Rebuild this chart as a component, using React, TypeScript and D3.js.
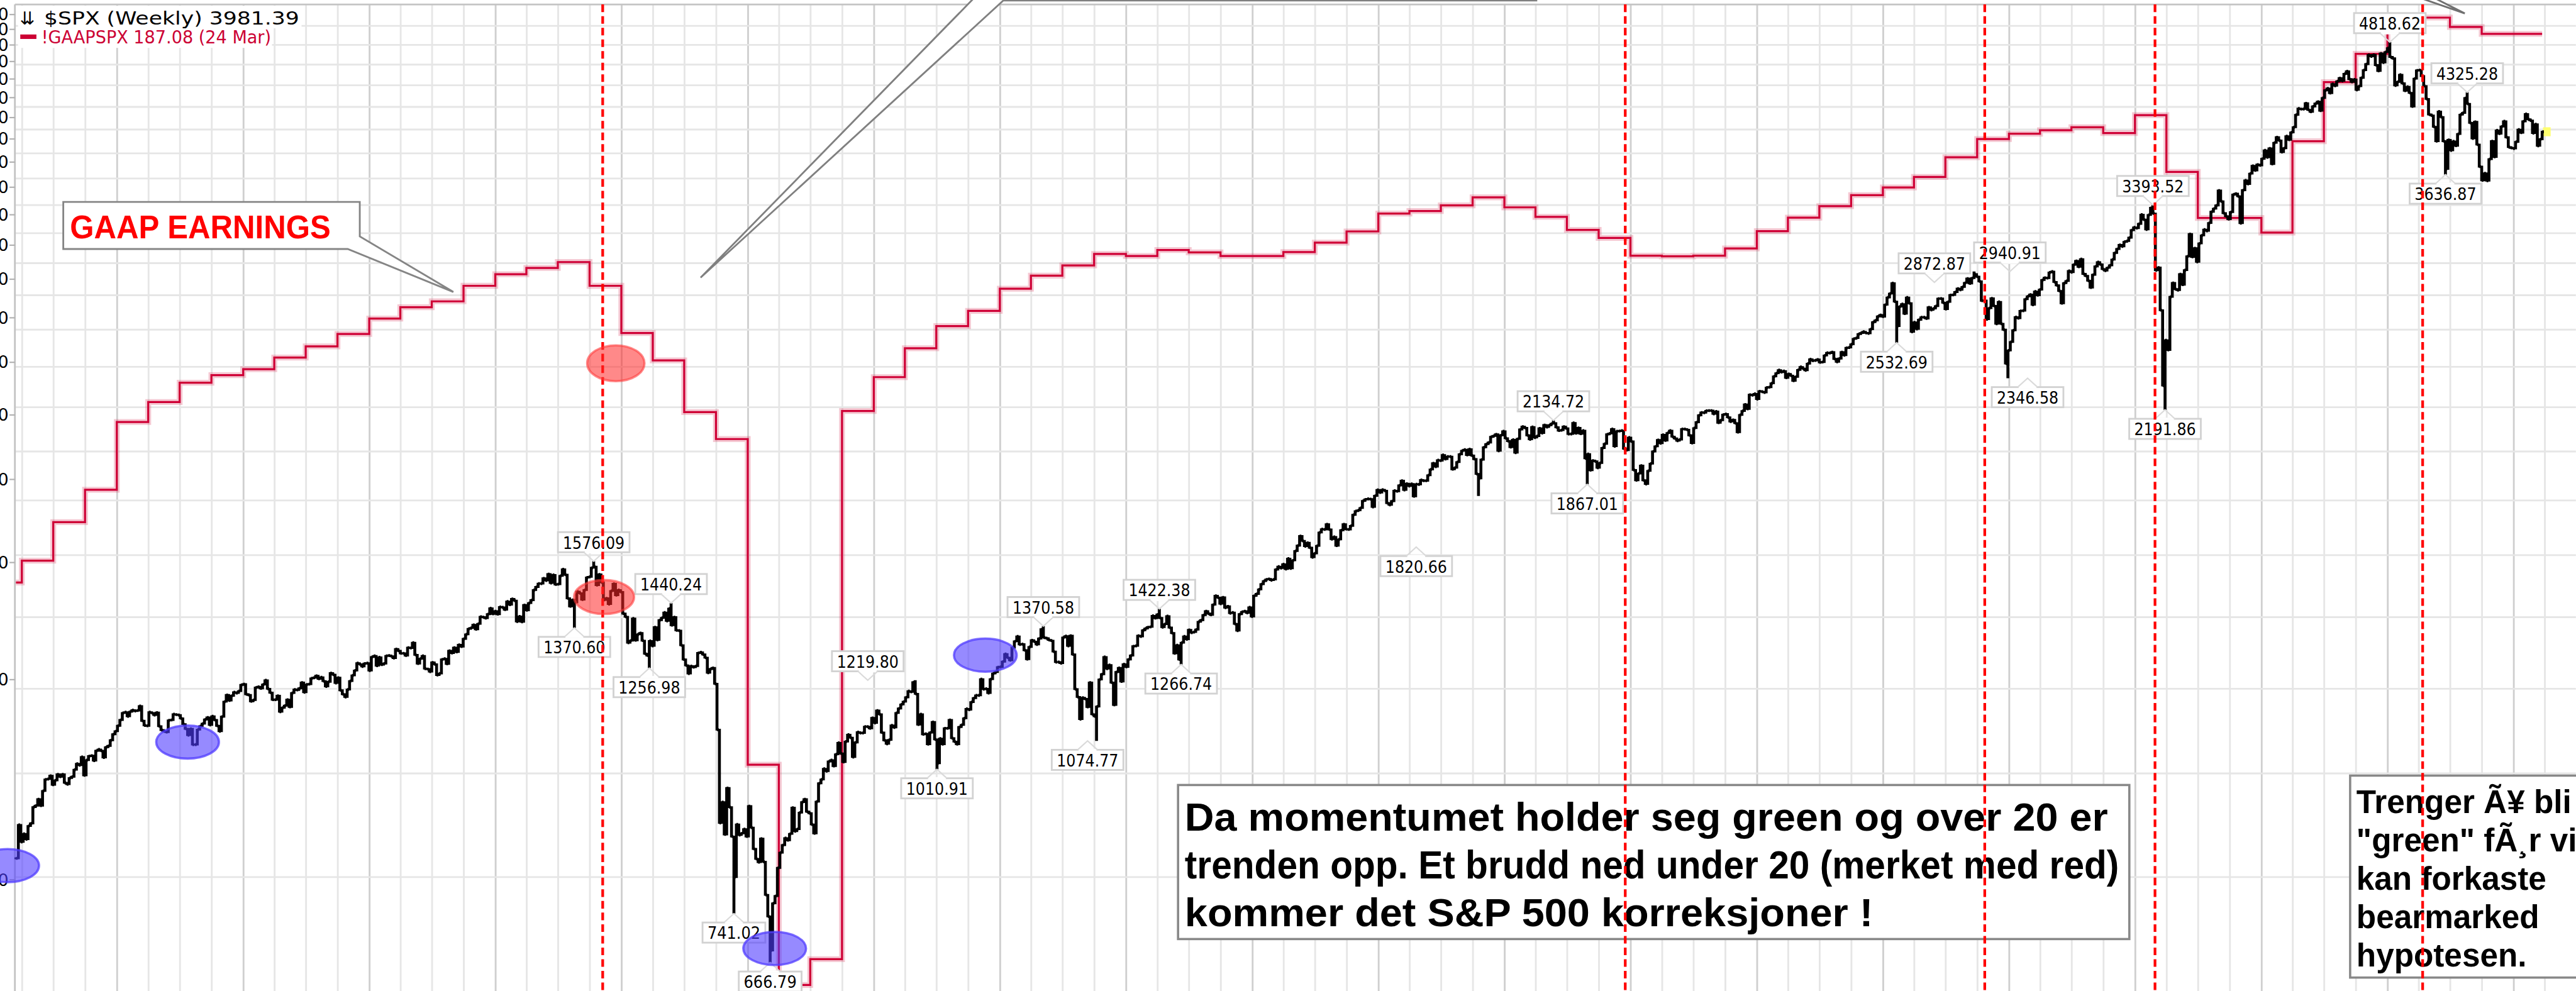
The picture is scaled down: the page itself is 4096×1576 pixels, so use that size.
import * as d3 from "d3";

// full-size reference coordinates, scaled down by the viewBox
const W = 5751;
const H = 2213;
const PLOT_LEFT = 33;
const PLOT_TOP = 10;

// $SPX weekly closes, one array per calendar year (first Friday given below)
const spx2003 = [833, 895, 863, 878, 868, 893, 898, 930, 933, 946, 933, 963, 987, 988, 995, 976, 985, 998, 993, 998, 980, 977, 990, 993, 1008, 1021, 1018, 1036, 996, 1029, 1038, 1039, 1028, 1050, 1053, 1050, 1035, 1058, 1061, 1074, 1088, 1095];
const spx2004 = [1108, 1122, 1139, 1141, 1131, 1142, 1146, 1144, 1145, 1156, 1120, 1109, 1108, 1141, 1139, 1134, 1140, 1107, 1098, 1095, 1093, 1121, 1122, 1136, 1135, 1134, 1126, 1112, 1101, 1086, 1101, 1064, 1064, 1099, 1107, 1113, 1123, 1128, 1110, 1131, 1122, 1108, 1095, 1130, 1167, 1184, 1170, 1182, 1191, 1189, 1194, 1210, 1212];
const spx2005 = [1186, 1184, 1168, 1171, 1203, 1205, 1201, 1211, 1222, 1200, 1190, 1172, 1172, 1182, 1142, 1152, 1157, 1172, 1154, 1189, 1198, 1197, 1201, 1216, 1191, 1211, 1212, 1227, 1229, 1234, 1226, 1230, 1220, 1206, 1218, 1241, 1237, 1215, 1229, 1196, 1186, 1179, 1198, 1220, 1235, 1248, 1268, 1265, 1259, 1267, 1268, 1248];
const spx2006 = [1285, 1288, 1261, 1284, 1264, 1267, 1288, 1289, 1287, 1282, 1307, 1302, 1295, 1295, 1289, 1311, 1310, 1325, 1291, 1267, 1280, 1288, 1253, 1252, 1245, 1270, 1265, 1236, 1240, 1278, 1280, 1266, 1302, 1296, 1311, 1299, 1319, 1314, 1336, 1349, 1365, 1368, 1377, 1364, 1380, 1401, 1400, 1397, 1409, 1427, 1410, 1418];
const spx2007 = [1409, 1431, 1430, 1423, 1448, 1438, 1456, 1451, 1387, 1402, 1386, 1437, 1421, 1443, 1452, 1484, 1494, 1505, 1505, 1522, 1515, 1536, 1507, 1533, 1502, 1503, 1530, 1552, 1534, 1458, 1433, 1453, 1445, 1479, 1474, 1454, 1484, 1525, 1527, 1557, 1561, 1500, 1535, 1509, 1453, 1458, 1440, 1481, 1504, 1468, 1484, 1478];
const spx2008 = [1411, 1401, 1325, 1331, 1396, 1332, 1349, 1353, 1331, 1294, 1289, 1330, 1316, 1370, 1333, 1391, 1398, 1414, 1389, 1426, 1376, 1400, 1361, 1360, 1318, 1278, 1262, 1240, 1260, 1257, 1260, 1296, 1298, 1292, 1283, 1242, 1252, 1255, 1213, 1099, 899, 940, 877, 969, 930, 873, 800, 896, 876, 879, 887, 873];
const spx2009 = [932, 890, 850, 832, 826, 869, 827, 770, 735, 683, 756, 768, 816, 843, 857, 870, 866, 878, 929, 883, 887, 919, 940, 946, 921, 918, 896, 879, 941, 979, 987, 1010, 1005, 1026, 1029, 1016, 1042, 1068, 1044, 1025, 1071, 1087, 1080, 1036, 1069, 1093, 1091, 1091, 1106, 1106, 1102, 1127, 1115];
const spx2010 = [1145, 1136, 1092, 1074, 1066, 1075, 1109, 1104, 1139, 1150, 1160, 1167, 1178, 1194, 1192, 1217, 1187, 1111, 1136, 1088, 1089, 1065, 1092, 1117, 1076, 1022, 1078, 1065, 1102, 1102, 1122, 1079, 1071, 1065, 1105, 1110, 1126, 1149, 1147, 1166, 1176, 1183, 1183, 1225, 1199, 1200, 1189, 1225, 1240, 1244, 1257, 1258];
const spx2011 = [1272, 1293, 1283, 1276, 1311, 1329, 1343, 1320, 1321, 1304, 1279, 1313, 1332, 1328, 1320, 1337, 1364, 1340, 1338, 1333, 1331, 1300, 1271, 1271, 1268, 1340, 1344, 1316, 1345, 1292, 1199, 1179, 1124, 1177, 1174, 1154, 1216, 1136, 1131, 1155, 1224, 1238, 1285, 1253, 1263, 1216, 1159, 1244, 1255, 1219, 1265, 1258];
const spx2012 = [1278, 1289, 1315, 1316, 1345, 1343, 1361, 1366, 1370, 1371, 1404, 1397, 1408, 1398, 1370, 1379, 1403, 1369, 1353, 1295, 1318, 1278, 1325, 1343, 1335, 1362, 1354, 1356, 1363, 1386, 1391, 1406, 1418, 1411, 1407, 1438, 1466, 1460, 1441, 1461, 1429, 1433, 1412, 1414, 1380, 1360, 1409, 1416, 1418, 1413, 1430, 1402];
const spx2013 = [1466, 1472, 1486, 1503, 1513, 1518, 1520, 1516, 1518, 1551, 1561, 1556, 1569, 1553, 1588, 1555, 1582, 1614, 1633, 1667, 1650, 1631, 1643, 1626, 1593, 1606, 1632, 1680, 1692, 1691, 1710, 1691, 1656, 1664, 1633, 1655, 1688, 1710, 1692, 1691, 1704, 1745, 1759, 1762, 1771, 1798, 1804, 1806, 1805, 1775, 1818, 1841];
const spx2014 = [1831, 1842, 1838, 1790, 1783, 1797, 1838, 1836, 1859, 1878, 1841, 1866, 1857, 1865, 1816, 1864, 1863, 1881, 1878, 1878, 1900, 1924, 1950, 1936, 1963, 1961, 1985, 1968, 1978, 1978, 1925, 1931, 1955, 1988, 2003, 2008, 1985, 2010, 1983, 1968, 1906, 1887, 1965, 2018, 2032, 2039, 2064, 2068, 2075, 2003, 2071, 2089];
const spx2015 = [2058, 2045, 2019, 2051, 1995, 2055, 2097, 2110, 2104, 2071, 2053, 2108, 2061, 2067, 2102, 2081, 2117, 2108, 2116, 2123, 2126, 2107, 2092, 2094, 2110, 2102, 2077, 2077, 2127, 2080, 2104, 2078, 2092, 1971, 1989, 1921, 1961, 1958, 1931, 1951, 2015, 2033, 2075, 2079, 2099, 2023, 2089, 2090, 2092, 2012, 2006, 2061, 2044];
const spx2016 = [1922, 1880, 1907, 1940, 1880, 1865, 1918, 1948, 2000, 2022, 2050, 2036, 2073, 2048, 2081, 2092, 2065, 2057, 2047, 2052, 2099, 2099, 2096, 2071, 2037, 2103, 2130, 2162, 2175, 2174, 2183, 2184, 2184, 2169, 2180, 2128, 2139, 2165, 2168, 2153, 2133, 2141, 2126, 2085, 2164, 2182, 2213, 2192, 2260, 2258, 2264, 2239];
const spx2017 = [2277, 2275, 2271, 2295, 2297, 2316, 2351, 2367, 2383, 2373, 2378, 2344, 2363, 2355, 2329, 2349, 2384, 2399, 2391, 2382, 2416, 2439, 2432, 2433, 2438, 2423, 2425, 2459, 2473, 2472, 2477, 2441, 2426, 2443, 2477, 2461, 2500, 2502, 2519, 2549, 2553, 2575, 2581, 2588, 2582, 2579, 2602, 2642, 2652, 2675, 2683, 2674];
const spx2018 = [2743, 2786, 2810, 2873, 2762, 2620, 2732, 2747, 2691, 2786, 2752, 2588, 2641, 2604, 2656, 2670, 2670, 2663, 2728, 2713, 2721, 2735, 2779, 2780, 2755, 2718, 2760, 2801, 2802, 2819, 2840, 2833, 2850, 2875, 2902, 2872, 2905, 2930, 2914, 2885, 2767, 2768, 2659, 2723, 2781, 2736, 2633, 2760, 2633, 2600, 2417, 2486];
const spx2019 = [2532, 2596, 2671, 2665, 2707, 2708, 2776, 2793, 2804, 2743, 2822, 2800, 2834, 2893, 2907, 2905, 2940, 2946, 2881, 2860, 2826, 2752, 2873, 2887, 2950, 2942, 2990, 3014, 2977, 3026, 2932, 2919, 2889, 2847, 2926, 2979, 3007, 2992, 2962, 2952, 2970, 2986, 3023, 3067, 3093, 3120, 3110, 3141, 3146, 3169, 3221, 3240];
const spx2020 = [3235, 3265, 3330, 3295, 3226, 3328, 3380, 3338, 2954, 2972, 2711, 2305, 2541, 2489, 2790, 2875, 2837, 2831, 2930, 2864, 2955, 3044, 3194, 3041, 3098, 3009, 3130, 3185, 3225, 3216, 3271, 3351, 3373, 3397, 3508, 3427, 3341, 3319, 3298, 3348, 3477, 3484, 3465, 3270, 3510, 3585, 3558, 3638, 3699, 3663, 3709, 3703, 3756];
const spx2021 = [3825, 3768, 3841, 3714, 3887, 3934, 3907, 3811, 3842, 3943, 3913, 3975, 4020, 4129, 4185, 4180, 4181, 4233, 4174, 4156, 4204, 4230, 4247, 4166, 4281, 4352, 4370, 4327, 4412, 4395, 4437, 4468, 4442, 4509, 4535, 4459, 4433, 4455, 4357, 4391, 4471, 4545, 4605, 4697, 4683, 4698, 4595, 4538, 4712, 4621, 4726, 4766];
const spx2022 = [4677, 4663, 4398, 4432, 4501, 4419, 4349, 4385, 4329, 4204, 4463, 4543, 4546, 4488, 4393, 4272, 4132, 4123, 4024, 3901, 4158, 4109, 3901, 3675, 3912, 3825, 3899, 3863, 3962, 4130, 4145, 4280, 4228, 4058, 3924, 4067, 3873, 3693, 3586, 3640, 3583, 3753, 3901, 3771, 3993, 3965, 4026, 4072, 3934, 3852, 3845, 3840];
const spx2023 = [3895, 3999, 3973, 4071, 4136, 4090, 4079, 3970, 4046, 3862, 3917, 3981];

const spxYearStarts = ["2003-03-14", "2004-01-02", "2005-01-07", "2006-01-06", "2007-01-05", "2008-01-04", "2009-01-02", "2010-01-08", "2011-01-07", "2012-01-06", "2013-01-04", "2014-01-03", "2015-01-02", "2016-01-08", "2017-01-06", "2018-01-05", "2019-01-04", "2020-01-03", "2021-01-08", "2022-01-07", "2023-01-06"];
const spxYears = [spx2003, spx2004, spx2005, spx2006, spx2007, spx2008, spx2009, spx2010, spx2011, spx2012, spx2013, spx2014, spx2015, spx2016, spx2017, spx2018, spx2019, spx2020, spx2021, spx2022, spx2023];

// !GAAPSPX, trailing earnings, step changes at quarter ends
const gaapDates = ["2003-03-14", "2003-03-31", "2003-06-30", "2003-09-30", "2003-12-31", "2004-03-31", "2004-06-30", "2004-09-30", "2004-12-31", "2005-03-31", "2005-06-30", "2005-09-30", "2005-12-31", "2006-03-31", "2006-06-30", "2006-09-30", "2006-12-31", "2007-03-31", "2007-06-30", "2007-09-30", "2007-12-31", "2008-03-31", "2008-06-30", "2008-09-30", "2008-12-31", "2009-03-31", "2009-06-30", "2009-09-30", "2009-12-31", "2010-03-31", "2010-06-30", "2010-09-30", "2010-12-31", "2011-03-31", "2011-06-30", "2011-09-30", "2011-12-31", "2012-03-31", "2012-06-30", "2012-09-30", "2012-12-31", "2013-03-31", "2013-06-30", "2013-09-30", "2013-12-31", "2014-03-31", "2014-06-30", "2014-09-30", "2014-12-31", "2015-03-31", "2015-06-30", "2015-09-30", "2015-12-31", "2016-03-31", "2016-06-30", "2016-09-30", "2016-12-31", "2017-03-31", "2017-06-30", "2017-09-30", "2017-12-31", "2018-03-31", "2018-06-30", "2018-09-30", "2018-12-31", "2019-03-31", "2019-06-30", "2019-09-30", "2019-12-31", "2020-03-31", "2020-06-30", "2020-09-30", "2020-12-31", "2021-03-31", "2021-06-30", "2021-09-30", "2021-12-31", "2022-03-31", "2022-06-30", "2022-09-30", "2022-12-31", "2023-03-24"];
const gaapValues = [28.0, 30.2, 34.5, 38.6, 48.8, 52.3, 55.9, 57.4, 58.6, 61.0, 63.4, 66.2, 69.8, 72.6, 74.1, 78.2, 81.4, 83.2, 84.9, 78.2, 66.4, 60.4, 50.5, 46.0, 14.9, 6.95, 7.6, 50.7, 57.0, 63.0, 68.0, 71.7, 77.4, 81.0, 83.9, 87.3, 86.7, 88.5, 87.8, 86.7, 86.7, 87.9, 90.8, 94.4, 100.4, 101.3, 103.3, 106.2, 102.6, 99.3, 94.9, 92.3, 86.8, 86.6, 86.8, 89.0, 94.5, 99.0, 103.0, 107.0, 109.9, 114.0, 122.0, 130.0, 132.4, 134.0, 135.4, 132.7, 141.2, 116.0, 98.9, 98.9, 94.0, 129.0, 158.3, 174.6, 197.9, 197.9, 191.6, 187.1, 187.1, 187.1];

// StockCharts price labels
const labelDates = ["2007-10-12", "2007-08-17", "2008-05-23", "2008-03-21", "2008-11-21", "2009-03-06", "2010-04-30", "2010-07-02", "2011-05-06", "2011-10-07", "2012-04-06", "2012-06-08", "2014-10-17", "2015-05-22", "2015-08-28", "2018-01-26", "2018-02-09", "2018-09-21", "2018-12-28", "2020-02-21", "2020-03-27", "2022-01-07", "2022-06-17", "2022-08-19"];
const labelValues = [1576.09, 1370.6, 1440.24, 1256.98, 741.02, 666.79, 1219.8, 1010.91, 1370.58, 1074.77, 1422.38, 1266.74, 1820.66, 2134.72, 1867.01, 2872.87, 2532.69, 2940.91, 2346.58, 3393.52, 2191.86, 4818.62, 3636.87, 4325.28];
const labelKinds = ["hi", "lo", "hi", "lo", "lo", "lo", "hi", "lo", "hi", "lo", "hi", "lo", "lo", "hi", "lo", "hi", "lo", "hi", "lo", "hi", "lo", "hi", "lo", "hi"];

// red dashed signal lines
const signalDates = ["2007-11-07", "2015-12-16", "2018-10-22", "2020-02-27", "2022-04-12"];

// hand-drawn ellipses
const blueDates = ["2003-02-18", "2004-07-23", "2009-03-19", "2010-11-19"];
const blueValues = [820, 1070, 686, 1290];
const redSpxDates = ["2007-11-11"];
const redSpxValues = [1462];
const redGaapDates = ["2007-12-15"];
const redGaapValues = [59.8];

const gaapTicks = [10, 20, 30, 40, 50, 60, 70, 80, 90, 100, 110, 120, 130, 140, 150, 160, 170, 180, 190, 200];
const spxGrid = [800, 1000, 1200, 1400, 1600, 1800, 2000, 2200, 2400, 2600, 2800, 3000, 3200, 3400, 3600, 3800, 4000, 4200, 4400, 4600, 4800, 5000];

const noteLines = ["Da momentumet holder seg green og over 20 er", "trenden opp. Et brudd ned under 20 (merket med red)", "kommer det S&P 500 korreksjoner !"];
const sideLines = ["Trenger Ã¥ bli", "\"green\" fÃ¸r vi", "kan forkaste", "bearmarked", "hypotesen."];

// layout: label boxes that StockCharts moved aside (full-size px)
const labelNudgeX = [0, 0, 0, 0, 0, 0, -106, 0, 0, -20, 0, 0, -139, 0, 0, 95, 0, 80, 44, 0, 0, 0, 0, 0];
const labelNudgeY = [0, 0, 0, 0, 0, 0, 0, 0, 0, 0, 0, 0, 114, 0, 0, 0, 0, 0, 0, 0, 0, 0, 0, 0];
const noteWidths = [2061, 2086, 1537];

const parse = d3.timeParse("%Y-%m-%d");
const LABEL_FONT = "'DejaVu Sans', Verdana, sans-serif";
const NARROW_FONT = "'Liberation Sans Narrow', 'Arial Narrow', 'Liberation Sans', sans-serif";

function PriceLabel({ x, y, text, kind }) {
  const tw = text.length * 19.7;
  const w = tw + 22;
  const h = 45;
  const gap = 22;
  const baseY = kind === "hi" ? y - gap : y + gap;
  const boxY = kind === "hi" ? y - gap - h : y + gap;
  const tipY = kind === "hi" ? y - 2 : y + 2;
  return (
    <g>
      <rect x={x - w / 2} y={boxY} width={w} height={h} fill="#fff" stroke="#d2d2d2" strokeWidth={4} />
      <line x1={x - 20} x2={x + 20} y1={baseY} y2={baseY} stroke="#fff" strokeWidth={5} />
      <path d={`M${x - 22},${baseY}L${x},${tipY}L${x + 22},${baseY}`} fill="none" stroke="#dadada" strokeWidth={3} />
      <text x={x} y={boxY + 37} textAnchor="middle" fontFamily={LABEL_FONT} fontSize={38} textLength={tw} lengthAdjust="spacingAndGlyphs" fill="#000">
        {text}
      </text>
    </g>
  );
}

export default function App() {
  const x = d3.scaleTime().domain([parse("2009-01-01"), parse("2022-01-01")]).range([1670, 5331]);
  const yS = d3.scaleLog().domain([626, 5236]).range([H, PLOT_TOP]);
  const yG = d3.scaleLog().domain([6.806, 207.1]).range([H, PLOT_TOP]);

  const weeks = spxYearStarts.flatMap((s, yi) => {
    const start = parse(s);
    return spxYears[yi].map((c, i) => ({ date: d3.timeDay.offset(start, 7 * i), close: c, hi: c, lo: c }));
  });
  weeks.forEach((w, i) => {
    const prev = i > 0 ? weeks[i - 1].close : w.close;
    w.hi = Math.max(prev, w.close);
    w.lo = Math.min(prev, w.close);
  });
  const labels = labelDates.map((d, i) => ({ date: parse(d), value: labelValues[i], kind: labelKinds[i] }));
  labels.forEach((l) => {
    const w = d3.least(weeks, (k) => Math.abs(+k.date - +l.date));
    if (!w) return;
    if (l.kind === "hi") w.hi = Math.max(w.hi, l.value);
    else w.lo = Math.min(w.lo, l.value);
  });

  let bars = "";
  weeks.forEach((w) => {
    const xx = x(w.date);
    bars += `M${xx.toFixed(1)},${(yS(w.hi) - 2).toFixed(1)}V${(yS(w.lo) + 2).toFixed(1)}M${xx.toFixed(1)},${yS(w.close).toFixed(1)}h4`;
  });

  const gaap = gaapDates.map((d, i) => ({ date: parse(d), value: gaapValues[i] }));
  const gaapLine = d3
    .line()
    .x((d) => x(d.date))
    .y((d) => yG(d.value))
    .curve(d3.curveStepAfter);
  const gaapPath = gaapLine(gaap) ?? "";

  const quarters = d3.timeMonth.range(parse("2003-04-01"), parse("2023-07-01"), 3);
  const last = weeks[weeks.length - 1];

  return (
    <div style={{ position: "absolute", left: 0, top: 0, width: 4096, height: 1576, background: "#fff" }}>
      <svg viewBox={`0 0 ${W} ${H}`} width={4096} height={1576} style={{ display: "block" }}>
        <rect x={0} y={0} width={W} height={H} fill="#fff" />

        {/* grid */}
        {quarters.map((q) => (
          <line key={+q} x1={x(q)} x2={x(q)} y1={PLOT_TOP} y2={H} stroke={q.getMonth() === 0 ? "#cfcfcf" : "#e6e6e6"} strokeWidth={4} />
        ))}
        {spxGrid.map((v) => (
          <line key={v} x1={PLOT_LEFT} x2={W} y1={yS(v)} y2={yS(v)} stroke="#e6e6e6" strokeWidth={4} />
        ))}
        <line x1={PLOT_LEFT} x2={W} y1={PLOT_TOP} y2={PLOT_TOP} stroke="#c4c4c4" strokeWidth={4} />
        <line x1={PLOT_LEFT} x2={PLOT_LEFT} y1={PLOT_TOP} y2={H} stroke="#c4c4c4" strokeWidth={4} />

        {/* left (GAAP) axis, mostly cut off by the crop */}
        {gaapTicks.map((v) => (
          <g key={v}>
            <line x1={21} x2={PLOT_LEFT} y1={yG(v)} y2={yG(v)} stroke="#b0b0b0" strokeWidth={3} />
            <text x={19} y={yG(v) + 13} textAnchor="end" fontFamily={LABEL_FONT} fontSize={38} fill="#000">
              {v}
            </text>
          </g>
        ))}

        {/* legend */}
        <rect x={40} y={13} width={633} height={50} fill="#fff" />
        <rect x={40} y={63} width={567} height={44} fill="#fff" />
        <text x={44} y={55} fontFamily={LABEL_FONT} fontSize={40} fill="#000">⇊</text>
        <text x={98} y={55} fontFamily={LABEL_FONT} fontSize={40} textLength={570} lengthAdjust="spacingAndGlyphs" fill="#000">
          $SPX (Weekly) 3981.39
        </text>
        <rect x={45} y={77} width={36} height={10} fill="#cc0033" />
        <text x={92} y={97} fontFamily={LABEL_FONT} fontSize={40} textLength={513} lengthAdjust="spacingAndGlyphs" fill="#cc0033">
          !GAAPSPX 187.08 (24 Mar)
        </text>

        {/* GAAP earnings step line */}
        <path d={gaapPath} fill="none" stroke="rgba(215,40,80,0.25)" strokeWidth={13} />
        <path d={gaapPath} fill="none" stroke="#cf0036" strokeWidth={4.5} />

        {/* last price marker */}
        <rect x={x(last.date) + 2} y={yS(last.close) - 10} width={17} height={20} fill="#ffff70" />

        {/* weekly bars */}
        <path d={bars} fill="none" stroke="#000" strokeWidth={6.5} />

        {/* price labels */}
        {labels.map((l, i) => (
          <PriceLabel key={i} x={x(l.date) + labelNudgeX[i]} y={yS(l.value) + labelNudgeY[i]} text={l.value.toFixed(2)} kind={l.kind} />
        ))}

        {/* GAAP EARNINGS callout */}
        <path d="M141,451H803V528L1012,652L776,556H141Z" fill="#fff" stroke="#858585" strokeWidth={4} />
        <text x={156} y={532} fontFamily={NARROW_FONT} fontWeight="bold" fontSize={72} textLength={582} lengthAdjust="spacingAndGlyphs" fill="#ff0000">
          GAAP EARNINGS
        </text>

        {/* callouts cut by the top edge */}
        <path d="M3432,1H2240L1564,620L2176,-6" fill="#fff" stroke="#808080" strokeWidth={4} />
        <path d="M5436,-4L5503,30L5405,-4" fill="#fff" stroke="#707070" strokeWidth={4} />

        {/* comment boxes */}
        <rect x={2630} y={1753} width={2124} height={344} fill="#fff" stroke="#888" strokeWidth={5} />
        {noteLines.map((t, i) => (
          <text key={t} x={2645} y={1855 + i * 106.5} fontFamily={NARROW_FONT} fontWeight="bold" fontSize={88} textLength={noteWidths[i]} lengthAdjust="spacingAndGlyphs" fill="#000">
            {t}
          </text>
        ))}
        <rect x={5247} y={1732} width={560} height={451} fill="#fff" stroke="#888" strokeWidth={5} />
        {sideLines.map((t, i) => (
          <text key={t} x={5261} y={1815 + i * 85.7} fontFamily="'Liberation Sans', Arial, sans-serif" fontWeight="bold" fontSize={72} fill="#000">
            {t}
          </text>
        ))}

        {/* red dashed signals */}
        {signalDates.map((d) => (
          <line key={d} x1={x(parse(d))} x2={x(parse(d))} y1={PLOT_TOP} y2={H} stroke="#ff0000" strokeWidth={6} strokeDasharray="17 9" />
        ))}

        {/* ellipses */}
        {blueDates.map((d, i) => (
          <ellipse key={d} cx={x(parse(d))} cy={yS(blueValues[i])} rx={70} ry={37} fill="rgba(80,60,255,0.6)" stroke="rgba(80,60,255,0.75)" strokeWidth={5} />
        ))}
        {redSpxDates.map((d, i) => (
          <ellipse key={d} cx={x(parse(d))} cy={yS(redSpxValues[i])} rx={67} ry={38} fill="rgba(255,40,40,0.55)" stroke="rgba(255,60,60,0.6)" strokeWidth={5} />
        ))}
        {redGaapDates.map((d, i) => (
          <ellipse key={d} cx={x(parse(d))} cy={yG(redGaapValues[i])} rx={64} ry={40} fill="rgba(255,40,40,0.55)" stroke="rgba(255,60,60,0.6)" strokeWidth={5} />
        ))}
      </svg>
    </div>
  );
}
